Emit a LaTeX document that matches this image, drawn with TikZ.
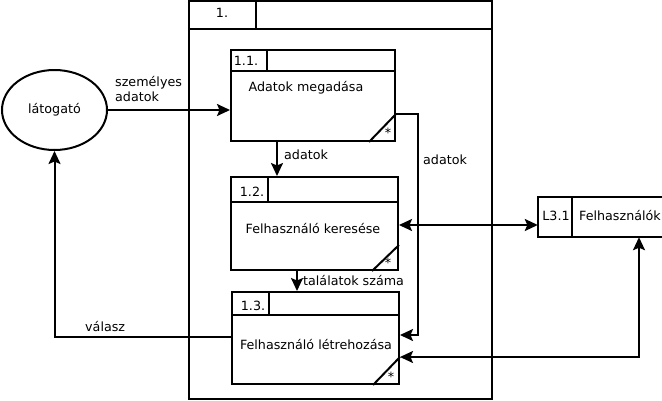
\documentclass[tikz,border=0pt]{standalone}
\usepackage{fontspec}
\setmainfont{DejaVu Sans}
\usetikzlibrary{arrows.meta,shapes.geometric}
\begin{document}
\begin{tikzpicture}[x=1pt,y=-1pt,
  every node/.style={font=\fontsize{12.7}{15}\selectfont, inner sep=0pt},
  ln/.style={line width=2pt},
  arr/.style={line width=2pt, -{Stealth[length=13pt,width=12pt,inset=2.5pt]}},
  darr/.style={line width=2pt, {Stealth[length=13pt,width=12pt,inset=2.5pt]}-{Stealth[length=13pt,width=12pt,inset=2.5pt]}},
  lbl/.style={anchor=west, align=left}
]
\useasboundingbox (0,0) rectangle (662,400);

% outer process
\node[draw, line width=2pt, minimum width=303pt, minimum height=398pt] (p1) at (340.5,200) {};
\coordinate (h0) at (0,29);
\draw[ln] (h0 -| p1.west) -- (h0 -| p1.east);
\coordinate (d0) at (256,0);
\draw[ln] (d0 |- p1.north) -- (d0 |- h0);
\node (t0) at (222,13) {1.};

% box 1.1
\node[draw, line width=2pt, minimum width=164pt, minimum height=91pt] (b11) at (313,95.5) {};
\coordinate (h1) at (0,71);
\draw[ln] (h1 -| b11.west) -- (h1 -| b11.east);
\coordinate (d1) at (267,0);
\draw[ln] (d1 |- b11.north) -- (d1 |- h1);
\coordinate (g1) at (369,114);
\draw[ln] (g1 |- b11.south) -- (g1 -| b11.east);
\node (t11) at (246,61) {1.1.};
\node (n11) at (306,88) {Adatok megadása};
\node (s11) at (388,133) {*};

% box 1.2
\node[draw, line width=2pt, minimum width=167pt, minimum height=93pt] (b12) at (314.5,223.5) {};
\coordinate (h2) at (0,202);
\draw[ln] (h2 -| b12.west) -- (h2 -| b12.east);
\coordinate (d2) at (268,0);
\draw[ln] (d2 |- b12.north) -- (d2 |- h2);
\coordinate (g2) at (372,245);
\draw[ln] (g2 |- b12.south) -- (g2 -| b12.east);
\node (t12) at (252,192) {1.2.};
\node (n12) at (313,229) {Felhasználó keresése};
\node (s12) at (388,263) {*};

% box 1.3
\node[draw, line width=2pt, minimum width=167pt, minimum height=92pt] (b13) at (315.5,338) {};
\coordinate (h3) at (0,315);
\draw[ln] (h3 -| b13.west) -- (h3 -| b13.east);
\coordinate (d3) at (269,0);
\draw[ln] (d3 |- b13.north) -- (d3 |- h3);
\coordinate (g3) at (373,357);
\draw[ln] (g3 |- b13.south) -- (g3 -| b13.east);
\node (t13) at (253,306) {1.3.};
\node (n13) at (316,345) {Felhasználó létrehozása};
\node (s13) at (391,377) {*};

% external entity
\node[draw, ellipse, line width=2pt, minimum width=105pt, minimum height=80pt] (lat) at (54.5,110) {látogató};

% data store
\node[minimum width=124pt, minimum height=40pt] (l31) at (600,217) {};
\draw[ln] (l31.north east) -- (l31.north west) -- (l31.south west) -- (l31.south east);
\coordinate (d4) at (572,0);
\draw[ln] (d4 |- l31.north) -- (d4 |- l31.south);
\node (tl) at (556,216) {L3.1};
\node[anchor=west] (nl) at (579,216) {Felhasználók};

% connectors
\draw[arr] (lat.east) -- (lat.east -| b11.west);
\node[lbl] (lab1) at (115,89) {személyes\\adatok};

\coordinate (c1) at (277,0);
\draw[arr] (c1 |- b11.south) -- (c1 |- b12.north);
\node[lbl] (lab2) at (284,155) {adatok};

\coordinate (k1) at (418,114);
\coordinate (k2) at (418,335);
\draw[arr] (k1 -| b11.east) -- (k1) -- (k2) -- (k2 -| b13.east);
\node[lbl] (lab3) at (423,160) {adatok};

\coordinate (k3) at (470,225);
\draw[darr] (k3 -| b12.east) -- (k3 -| l31.west);

\coordinate (k4) at (639,357);
\draw[darr] (k4 |- l31.south) -- (k4) -- (k4 -| b13.east);

\coordinate (c2) at (297,0);
\draw[arr] (c2 |- b12.south) -- (c2 |- b13.north);
\node[lbl] (lab4) at (303,281) {találatok száma};

\coordinate (k5) at (100,337);
\draw[arr] (k5 -| b13.west) -| (lat.south);
\node[lbl] (lab5) at (85,327) {válasz};
\end{tikzpicture}
\end{document}
